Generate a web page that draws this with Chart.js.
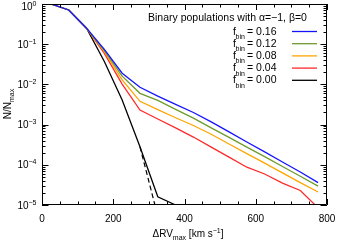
<!DOCTYPE html>
<html>
<head>
<meta charset="utf-8">
<script src="https://cdn.jsdelivr.net/npm/chart.js@4.4.1/dist/chart.umd.min.js"></script>
<style>
  html, body { margin: 0; padding: 0; background: #fff; }
  #wrap { width: 337px; height: 240px; position: relative; }
</style>
</head>
<body>
<div id="wrap"><canvas id="rvChart"></canvas></div>
<script>
// ΔRV_max grid (km/s) and normalised counts per binary fraction
const rvBins = [25, 75, 125, 175, 225, 275, 325, 375, 425, 475, 525, 575, 625, 675, 725, 775];
const fbin16 = [1.0, 0.71, 0.25, 0.074, 0.019, 8.5e-3, 5.1e-3, 3.2e-3, 2.0e-3, 1.17e-3, 6.6e-4, 3.7e-4, 2.1e-4, 1.17e-4, 6.6e-5, 3.6e-5];
const fbin12 = [1.0, 0.71, 0.25, 0.069, 0.016, 6.0e-3, 4.0e-3, 2.4e-3, 1.45e-3, 8.3e-4, 4.8e-4, 2.75e-4, 1.6e-4, 9.1e-5, 5.2e-5, 2.95e-5];
const fbin08 = [1.0, 0.71, 0.25, 0.065, 0.0129, 3.8e-3, 2.35e-3, 1.48e-3, 9.5e-4, 5.75e-4, 3.3e-4, 1.9e-4, 1.1e-4, 6.3e-5, 3.6e-5, 2.1e-5];
const fbin04 = [1.0, 0.71, 0.25, 0.059, 0.0102, 2.3e-3, 1.38e-3, 8.3e-4, 4.9e-4, 2.75e-4, 1.55e-4, 8.7e-5, 5.9e-5, 3.5e-5, 2.3e-5, 8.5e-6];
const fbin00 = [1.0, 0.71, 0.25, 0.037, 4.1e-3, 2.8e-4, 1.6e-5, 1.0e-5];
// dashed single-star curve
const singleX = [275, 317];
const singleY = [2.8e-4, 1.0e-5];

const fbinLabels = ["0.16", "0.12", "0.08", "0.04", "0.00"];
const fbinColors = ["#1414ff", "#6e9a2e", "#ffa500", "#ff2a2a", "#000000"];
const xTickVals = [0, 200, 400, 600, 800];
const xMinorStep = 50;
const yExponents = [0, -1, -2, -3, -4, -5];

const FONT = "Liberation Sans, Arial, Helvetica, sans-serif";

function pts(xs, ys) {
  return ys.map((v, i) => ({ x: xs[i], y: v }));
}

const series = [fbin16, fbin12, fbin08, fbin04, fbin00];
const datasets = series.map((s, i) => ({
  data: pts(rvBins, s),
  borderColor: fbinColors[i],
  borderWidth: 1.3,
  pointRadius: 0,
  tension: 0,
  fill: false
}));
datasets.push({
  data: pts(singleX, singleY),
  borderColor: "#000",
  borderWidth: 1.2,
  borderDash: [5, 3],
  pointRadius: 0,
  tension: 0,
  fill: false
});

// text with a raised or lowered small part
function richText(ctx, parts, x, y, size) {
  let cx = x;
  parts.forEach(p => {
    const s = p.shift ? size * 0.7 : size;
    ctx.font = s + "px " + FONT;
    ctx.fillText(p.t, cx, y + (p.shift || 0));
    cx += ctx.measureText(p.t).width;
  });
  return cx - x;
}
function richWidth(ctx, parts, size) {
  let w = 0;
  parts.forEach(p => {
    ctx.font = (p.shift ? size * 0.7 : size) + "px " + FONT;
    w += ctx.measureText(p.t).width;
  });
  return w;
}

const idlFrame = {
  id: "idlFrame",
  afterDraw(chart) {
    const ctx = chart.ctx;
    const a = chart.chartArea;
    const xs = chart.scales.x, ys = chart.scales.y;
    ctx.save();
    ctx.setLineDash([]);
    ctx.strokeStyle = "#000";
    ctx.fillStyle = "#000";
    ctx.lineWidth = 1;

    // frame + inward ticks as one path
    ctx.beginPath();
    ctx.rect(a.left + 0.5, a.top + 0.5, a.right - a.left - 1, a.bottom - a.top - 1);
    const xTicks = [];
    for (let k = 0; k <= 16; k++) xTicks.push(k * xMinorStep);
    xTicks.forEach(v => {
      const px = Math.round(xs.getPixelForValue(v)) + 0.5;
      const len = v % 200 === 0 ? 6 : 3.5;
      ctx.moveTo(px, a.bottom);
      ctx.lineTo(px, a.bottom - len);
      ctx.moveTo(px, a.top);
      ctx.lineTo(px, a.top + len);
    });
    yExponents.forEach(e => {
      for (let m = 1; m <= 9; m++) {
        if (e === 0 && m > 1) break;
        const v = m * Math.pow(10, e);
        const py = Math.round(ys.getPixelForValue(v)) + 0.5;
        const len = m === 1 ? 6.5 : 3.5;
        ctx.moveTo(a.left, py);
        ctx.lineTo(a.left + len, py);
        ctx.moveTo(a.right, py);
        ctx.lineTo(a.right - len, py);
      }
    });
    ctx.stroke();

    // x tick labels
    ctx.textBaseline = "alphabetic";
    ctx.textAlign = "center";
    ctx.font = "10px " + FONT;
    xTickVals.forEach(v => {
      ctx.fillText(String(v), xs.getPixelForValue(v), 221.5);
    });

    // y tick labels 10^n
    ctx.textAlign = "left";
    yExponents.forEach(e => {
      const exp = e === 0 ? "0" : "\u2212" + (-e);
      const parts = [{ t: "10" }, { t: exp, shift: -4 }];
      const w = richWidth(ctx, parts, 10);
      const py = Math.max(ys.getPixelForValue(Math.pow(10, e)), 6);
      richText(ctx, parts, 36.5 - w, py + 3.5, 10);
    });

    // x title
    const xt = [{ t: "\u0394RV" }, { t: "max", shift: 3 }, { t: " [km s" }, { t: "\u22121", shift: -4 }, { t: "]" }];
    const xw = richWidth(ctx, xt, 10);
    richText(ctx, xt, 188 - xw / 2, 236.5, 10);

    // y title
    ctx.save();
    ctx.translate(11, 104);
    ctx.rotate(-Math.PI / 2);
    const yt = [{ t: "N/N" }, { t: "max", shift: 3 }];
    const yw = richWidth(ctx, yt, 10);
    richText(ctx, yt, -yw / 2, 0, 10);
    ctx.restore();

    // legend
    ctx.font = "10.5px " + FONT;
    ctx.fillText("Binary populations with \u03b1=\u22121, \u03b2=0", 148, 21);
    fbinLabels.forEach((lab, i) => {
      const ry = 31 + i * 12.2;
      ctx.font = "10.5px " + FONT;
      ctx.fillText("f", 233, ry + 3.5);
      ctx.font = "7px " + FONT;
      ctx.fillText("bin", 235.5, ry + 8);
      ctx.font = "10.5px " + FONT;
      ctx.fillText("= " + lab, 247, ry + 3.5);
      ctx.strokeStyle = fbinColors[i];
      ctx.lineWidth = 1.3;
      ctx.beginPath();
      ctx.moveTo(292, ry + 0.5);
      ctx.lineTo(317, ry + 0.5);
      ctx.stroke();
    });
    ctx.restore();
  }
};

new Chart(document.getElementById("rvChart"), {
  type: "line",
  data: { datasets },
  options: {
    responsive: true,
    maintainAspectRatio: false,
    animation: false,
    events: [],
    layout: { padding: { left: 42, top: 4, right: 10, bottom: 35 } },
    plugins: { legend: { display: false }, tooltip: { enabled: false } },
    scales: {
      x: { type: "linear", min: 0, max: 800, display: false },
      y: { type: "logarithmic", min: 1e-5, max: 1, display: false }
    }
  },
  plugins: [idlFrame]
});
</script>
</body>
</html>
